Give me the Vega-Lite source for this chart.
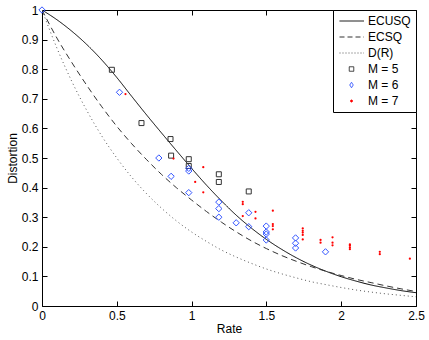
{
  "$schema": "https://vega.github.io/schema/vega-lite/v6.json",
  "width": 374,
  "height": 296,
  "autosize": "none",
  "padding": {"left": 42, "top": 10, "right": 13, "bottom": 34},
  "background": "white",
  "config": {
    "view": {"stroke": null},
    "font": "Liberation Sans",
    "axis": {"grid": false, "domainColor": "#000", "tickColor": "#000", "labelColor": "#000", "titleColor": "#000", "labelFontSize": 12, "titleFontSize": 12, "titleFontWeight": "normal", "tickSize": -5, "labelFont": "Liberation Sans", "titleFont": "Liberation Sans", "labelFlush": false, "labelOverlap": false}
  },
  "datasets": {
    "curves": [
      {"s":"ECUSQ","R":0,"D":1},{"s":"ECUSQ","R":0.1,"D":0.967},{"s":"ECUSQ","R":0.2,"D":0.928},{"s":"ECUSQ","R":0.3,"D":0.883},{"s":"ECUSQ","R":0.4,"D":0.831},{"s":"ECUSQ","R":0.5,"D":0.772},{"s":"ECUSQ","R":0.6,"D":0.708},{"s":"ECUSQ","R":0.7,"D":0.645},{"s":"ECUSQ","R":0.8,"D":0.584},{"s":"ECUSQ","R":0.9,"D":0.524},{"s":"ECUSQ","R":1.0,"D":0.465},{"s":"ECUSQ","R":1.1,"D":0.408},{"s":"ECUSQ","R":1.2,"D":0.355},{"s":"ECUSQ","R":1.3,"D":0.306},{"s":"ECUSQ","R":1.4,"D":0.263},{"s":"ECUSQ","R":1.5,"D":0.225},{"s":"ECUSQ","R":1.6,"D":0.192},{"s":"ECUSQ","R":1.7,"D":0.163},{"s":"ECUSQ","R":1.8,"D":0.138},{"s":"ECUSQ","R":1.9,"D":0.117},{"s":"ECUSQ","R":2.0,"D":0.099},{"s":"ECUSQ","R":2.1,"D":0.084},{"s":"ECUSQ","R":2.2,"D":0.071},{"s":"ECUSQ","R":2.3,"D":0.061},{"s":"ECUSQ","R":2.4,"D":0.052},{"s":"ECUSQ","R":2.5,"D":0.045},
      {"s":"ECSQ","R":0,"D":1},{"s":"ECSQ","R":0.1,"D":0.905},{"s":"ECSQ","R":0.2,"D":0.822},{"s":"ECSQ","R":0.3,"D":0.745},{"s":"ECSQ","R":0.4,"D":0.673},{"s":"ECSQ","R":0.5,"D":0.607},{"s":"ECSQ","R":0.6,"D":0.548},{"s":"ECSQ","R":0.7,"D":0.494},{"s":"ECSQ","R":0.8,"D":0.444},{"s":"ECSQ","R":0.9,"D":0.399},{"s":"ECSQ","R":1.0,"D":0.358},{"s":"ECSQ","R":1.1,"D":0.319},{"s":"ECSQ","R":1.2,"D":0.283},{"s":"ECSQ","R":1.3,"D":0.25},{"s":"ECSQ","R":1.4,"D":0.22},{"s":"ECSQ","R":1.5,"D":0.194},{"s":"ECSQ","R":1.6,"D":0.171},{"s":"ECSQ","R":1.7,"D":0.151},{"s":"ECSQ","R":1.8,"D":0.133},{"s":"ECSQ","R":1.9,"D":0.117},{"s":"ECSQ","R":2.0,"D":0.103},{"s":"ECSQ","R":2.1,"D":0.09},{"s":"ECSQ","R":2.2,"D":0.079},{"s":"ECSQ","R":2.3,"D":0.068},{"s":"ECSQ","R":2.4,"D":0.058},{"s":"ECSQ","R":2.5,"D":0.049},
      {"s":"D(R)","R":0,"D":1},{"s":"D(R)","R":0.1,"D":0.871},{"s":"D(R)","R":0.2,"D":0.758},{"s":"D(R)","R":0.3,"D":0.66},{"s":"D(R)","R":0.4,"D":0.574},{"s":"D(R)","R":0.5,"D":0.5},{"s":"D(R)","R":0.6,"D":0.435},{"s":"D(R)","R":0.7,"D":0.379},{"s":"D(R)","R":0.8,"D":0.33},{"s":"D(R)","R":0.9,"D":0.287},{"s":"D(R)","R":1.0,"D":0.25},{"s":"D(R)","R":1.1,"D":0.218},{"s":"D(R)","R":1.2,"D":0.189},{"s":"D(R)","R":1.3,"D":0.165},{"s":"D(R)","R":1.4,"D":0.144},{"s":"D(R)","R":1.5,"D":0.125},{"s":"D(R)","R":1.6,"D":0.109},{"s":"D(R)","R":1.7,"D":0.095},{"s":"D(R)","R":1.8,"D":0.082},{"s":"D(R)","R":1.9,"D":0.072},{"s":"D(R)","R":2.0,"D":0.0625},{"s":"D(R)","R":2.1,"D":0.054},{"s":"D(R)","R":2.2,"D":0.047},{"s":"D(R)","R":2.3,"D":0.041},{"s":"D(R)","R":2.4,"D":0.036},{"s":"D(R)","R":2.5,"D":0.031}
    ],
    "m5": [
      {"s":"M = 5","R":0.467,"D":0.798},{"s":"M = 5","R":0.665,"D":0.618},{"s":"M = 5","R":0.859,"D":0.564},{"s":"M = 5","R":0.863,"D":0.508},{"s":"M = 5","R":0.981,"D":0.496},{"s":"M = 5","R":0.981,"D":0.473},{"s":"M = 5","R":1.182,"D":0.445},{"s":"M = 5","R":1.182,"D":0.419},{"s":"M = 5","R":1.382,"D":0.387}
    ],
    "m6": [
      {"s":"M = 6","R":0,"D":1},{"s":"M = 6","R":0.518,"D":0.722},{"s":"M = 6","R":0.781,"D":0.5},{"s":"M = 6","R":0.863,"D":0.438},{"s":"M = 6","R":0.981,"D":0.465},{"s":"M = 6","R":0.981,"D":0.456},{"s":"M = 6","R":0.981,"D":0.383},{"s":"M = 6","R":1.182,"D":0.351},{"s":"M = 6","R":1.182,"D":0.329},{"s":"M = 6","R":1.182,"D":0.3},{"s":"M = 6","R":1.298,"D":0.281},{"s":"M = 6","R":1.382,"D":0.315},{"s":"M = 6","R":1.382,"D":0.268},{"s":"M = 6","R":1.499,"D":0.27},{"s":"M = 6","R":1.499,"D":0.25},{"s":"M = 6","R":1.499,"D":0.243},{"s":"M = 6","R":1.499,"D":0.223},{"s":"M = 6","R":1.695,"D":0.23},{"s":"M = 6","R":1.695,"D":0.212},{"s":"M = 6","R":1.695,"D":0.196},{"s":"M = 6","R":1.895,"D":0.183}
    ],
    "m7": [
      {"s":"M = 7","R":0.558,"D":0.716},{"s":"M = 7","R":0.879,"D":0.498},{"s":"M = 7","R":1.078,"D":0.469},{"s":"M = 7","R":1.024,"D":0.419},{"s":"M = 7","R":1.078,"D":0.384},{"s":"M = 7","R":1.342,"D":0.352},{"s":"M = 7","R":1.342,"D":0.344},{"s":"M = 7","R":1.342,"D":0.304},{"s":"M = 7","R":1.427,"D":0.318},{"s":"M = 7","R":1.427,"D":0.296},{"s":"M = 7","R":1.543,"D":0.322},{"s":"M = 7","R":1.543,"D":0.277},{"s":"M = 7","R":1.543,"D":0.27},{"s":"M = 7","R":1.543,"D":0.259},{"s":"M = 7","R":1.743,"D":0.262},{"s":"M = 7","R":1.743,"D":0.254},{"s":"M = 7","R":1.743,"D":0.248},{"s":"M = 7","R":1.743,"D":0.24},{"s":"M = 7","R":1.743,"D":0.225},{"s":"M = 7","R":1.862,"D":0.223},{"s":"M = 7","R":1.862,"D":0.214},{"s":"M = 7","R":1.942,"D":0.232},{"s":"M = 7","R":1.942,"D":0.214},{"s":"M = 7","R":1.942,"D":0.205},{"s":"M = 7","R":2.058,"D":0.208},{"s":"M = 7","R":2.058,"D":0.204},{"s":"M = 7","R":2.058,"D":0.198},{"s":"M = 7","R":2.058,"D":0.192},{"s":"M = 7","R":2.258,"D":0.183},{"s":"M = 7","R":2.258,"D":0.175},{"s":"M = 7","R":2.459,"D":0.16}
    ]
  },
  "resolve": {"scale": {"x": "shared", "y": "shared", "color": "shared"}, "axis": {"x": "independent", "y": "independent"}},
  "layer": [
    {
      "data": {"name": "curves"},
      "mark": {"type": "line", "strokeWidth": 1, "interpolate": "monotone", "clip": true},
      "encoding": {
        "x": {"field": "R", "type": "quantitative", "scale": {"domain": [0, 2.5], "nice": false, "zero": false},
              "axis": {"orient": "bottom", "values": [0, 0.5, 1, 1.5, 2, 2.5], "format": ".1~f", "title": "Rate", "labelPadding": 9, "titlePadding": 2}},
        "y": {"field": "D", "type": "quantitative", "scale": {"domain": [0, 1], "nice": false},
              "axis": {"orient": "left", "values": [0, 0.1, 0.2, 0.3, 0.4, 0.5, 0.6, 0.7, 0.8, 0.9, 1], "format": ".1~f", "title": "Distortion", "labelPadding": 9, "titleX": -30, "titleY": 148, "titleAlign": "center", "titleBaseline": "middle", "titleAngle": -90}},
        "color": {"field": "s", "type": "nominal",
                  "scale": {"domain": ["ECUSQ", "ECSQ", "D(R)", "M = 5", "M = 6", "M = 7"], "range": ["#000000", "#333333", "#555555", "#333333", "#3355ff", "#ff0000"]},
                  "legend": {
                    "title": null, "orient": "top-right", "offset": 0, "padding": 5,
                    "fillColor": "white", "strokeColor": "#000000",
                    "labelFont": "Liberation Sans", "labelFontSize": 12, "labelColor": "#000",
                    "symbolSize": 100, "labelOffset": 18, "rowPadding": 4,
                    "encode": {"symbols": {"update": {
                      "shape": {"signal": "datum.value==='M = 5' ? 'M1.05,-0.45H1.95V0.45H1.05Z' : datum.value==='M = 6' ? 'M1.15,0L1.5,-0.55L1.85,0L1.5,0.55Z' : datum.value==='M = 7' ? 'M1.7,0A0.2,0.2,0,1,1,1.3,0A0.2,0.2,0,1,1,1.7,0Z' : 'M-0.9,0H4'"},
                      "size": {"value": 100},
                      "strokeDash": {"signal": "datum.value==='ECSQ' ? [5,3] : datum.value==='D(R)' ? [1,2] : [1,0]"},
                      "fill": {"signal": "datum.value==='M = 7' ? '#ff0000' : 'transparent'"},
                      "fillOpacity": {"signal": "datum.value==='M = 7' ? 1 : 0"},
                      "stroke": {"signal": "datum.value==='M = 6' ? '#3355ff' : datum.value==='M = 7' ? '#ff0000' : datum.value==='D(R)' ? '#777777' : datum.value==='ECSQ' ? '#444444' : '#333333'"},
                      "strokeWidth": {"value": 1},
                      "opacity": {"value": 1}
                    }}}
                  }},
        "strokeDash": {"field": "s", "type": "nominal", "scale": {"domain": ["ECUSQ", "ECSQ", "D(R)"], "range": [[1, 0], [6, 4], [1, 3]]}, "legend": null}
      }
    },
    {
      "data": {"name": "m5"},
      "mark": {"type": "point", "shape": "square", "filled": false, "size": 25, "strokeWidth": 1, "opacity": 1},
      "encoding": {
        "x": {"field": "R", "type": "quantitative", "axis": {"orient": "top", "values": [0, 0.5, 1, 1.5, 2, 2.5], "labels": false, "title": null}},
        "y": {"field": "D", "type": "quantitative", "axis": {"orient": "right", "values": [0, 0.1, 0.2, 0.3, 0.4, 0.5, 0.6, 0.7, 0.8, 0.9, 1], "labels": false, "title": null}},
        "color": {"field": "s", "type": "nominal"}
      }
    },
    {
      "data": {"name": "m6"},
      "mark": {"type": "point", "shape": "diamond", "filled": false, "size": 40, "strokeWidth": 1, "opacity": 1},
      "encoding": {
        "x": {"field": "R", "type": "quantitative", "axis": null},
        "y": {"field": "D", "type": "quantitative", "axis": null},
        "color": {"field": "s", "type": "nominal"}
      }
    },
    {
      "data": {"name": "m7"},
      "mark": {"type": "point", "shape": "circle", "filled": true, "size": 5, "opacity": 1},
      "encoding": {
        "x": {"field": "R", "type": "quantitative", "axis": null},
        "y": {"field": "D", "type": "quantitative", "axis": null},
        "color": {"field": "s", "type": "nominal"}
      }
    }
  ]
}
